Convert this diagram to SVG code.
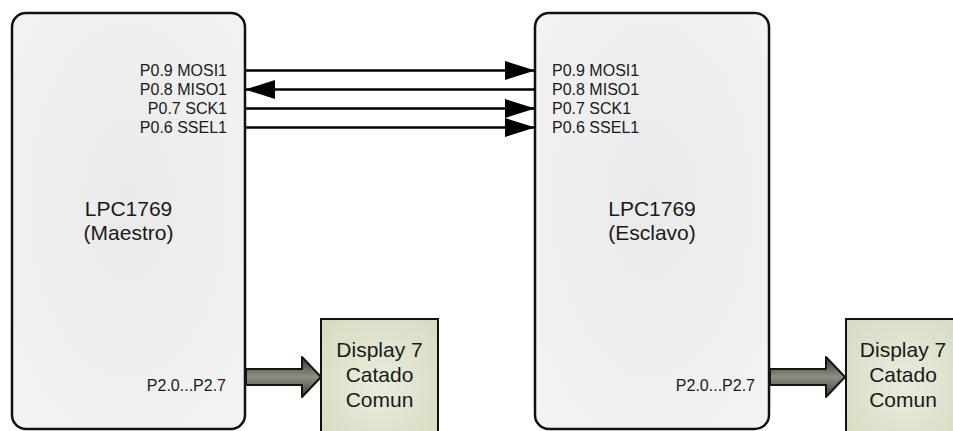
<svg xmlns="http://www.w3.org/2000/svg" width="953" height="431" viewBox="0 0 953 431">
<style>
.mcu{fill:url(#gBox);stroke:#111;stroke-width:2.5}
.disp{fill:url(#gDisp);stroke:#111;stroke-width:2}
.pin{font-family:"Liberation Sans",Arial,sans-serif;font-size:16px;fill:#1a1a1a}
.big{font-family:"Liberation Sans",Arial,sans-serif;font-size:21px;fill:#1a1a1a;text-anchor:middle}
.wire{stroke:#000;stroke-width:2.7;fill:none}
.bus{fill:url(#gBus);stroke:#151510;stroke-width:2;stroke-linejoin:round}
</style>
<defs>
<radialGradient id="gBox" cx="0.5" cy="0.45" r="0.7">
<stop offset="0" stop-color="#eaeaea"/>
<stop offset="1" stop-color="#f3f3f3"/>
</radialGradient>
<radialGradient id="gDisp" cx="0.5" cy="0.5" r="0.7">
<stop offset="0" stop-color="#e9ecdc"/>
<stop offset="1" stop-color="#d5dbc1"/>
</radialGradient>
<linearGradient id="gBus" x1="0" y1="0" x2="0" y2="1">
<stop offset="0" stop-color="#3a3a32"/>
<stop offset="0.5" stop-color="#8e8e84"/>
<stop offset="1" stop-color="#3f3f37"/>
</linearGradient>
<marker id="ah" markerUnits="userSpaceOnUse" markerWidth="31" markerHeight="20" viewBox="0 0 31 20" refX="30" refY="10" orient="auto">
<path d="M0,0.5 L30,10 L0,19.5 Z" fill="#000"/>
</marker>
</defs>
<g id="maestro">
<rect class="mcu" x="12" y="13" width="233" height="416" rx="14"/>
<text class="pin" x="227" y="76" text-anchor="end">P0.9 MOSI1</text>
<text class="pin" x="227" y="95" text-anchor="end">P0.8 MISO1</text>
<text class="pin" x="227" y="114" text-anchor="end">P0.7 SCK1</text>
<text class="pin" x="227" y="133" text-anchor="end">P0.6 SSEL1</text>
<text class="big" x="128.5" y="216">LPC1769</text>
<text class="big" x="128.5" y="240">(Maestro)</text>
<text class="pin" x="226" y="391" text-anchor="end">P2.0...P2.7</text>
</g>
<g id="esclavo">
<rect class="mcu" x="535" y="13" width="234" height="416" rx="14"/>
<text class="pin" x="552" y="76">P0.9 MOSI1</text>
<text class="pin" x="552" y="95">P0.8 MISO1</text>
<text class="pin" x="552" y="114">P0.7 SCK1</text>
<text class="pin" x="552" y="133">P0.6 SSEL1</text>
<text class="big" x="652" y="216">LPC1769</text>
<text class="big" x="652" y="240">(Esclavo)</text>
<text class="pin" x="755" y="391" text-anchor="end">P2.0...P2.7</text>
</g>
<g id="display1">
<rect class="disp" x="321" y="319" width="117" height="130"/>
<text class="big" x="379.5" y="357">Display 7</text>
<text class="big" x="379.5" y="382">Catado</text>
<text class="big" x="379.5" y="407">Comun</text>
</g>
<g id="display2">
<rect class="disp" x="846" y="319" width="117" height="130"/>
<text class="big" x="903" y="357">Display 7</text>
<text class="big" x="903" y="382">Catado</text>
<text class="big" x="903" y="407">Comun</text>
</g>
<g id="connectors">
<line class="wire" x1="245" y1="70.5" x2="535" y2="70.5" marker-end="url(#ah)"/>
<line class="wire" x1="535" y1="89.5" x2="245" y2="89.5" marker-end="url(#ah)"/>
<line class="wire" x1="245" y1="108.5" x2="535" y2="108.5" marker-end="url(#ah)"/>
<line class="wire" x1="245" y1="127.5" x2="535" y2="127.5" marker-end="url(#ah)"/>
<path class="bus" d="M246,369 L302,369 L302,357 L321,377 L302,397 L302,385 L246,385 Z"/>
<path class="bus" d="M770,369 L826,369 L826,357 L845,377 L826,397 L826,385 L770,385 Z"/>
</g>
</svg>
